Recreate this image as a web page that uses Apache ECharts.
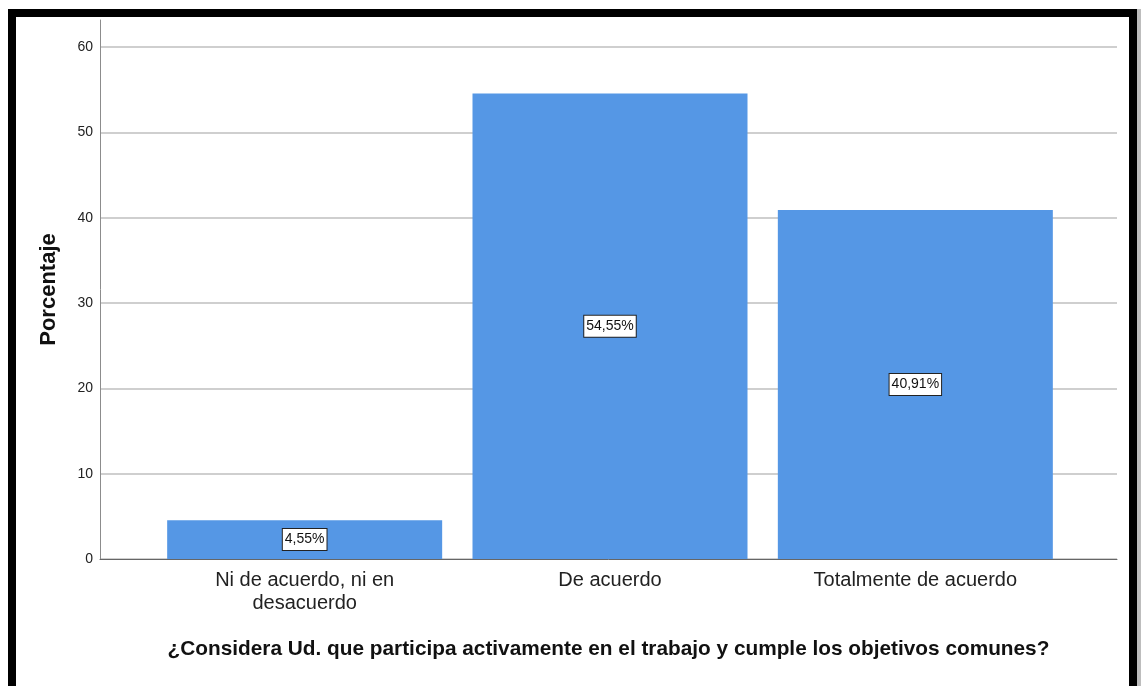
<!DOCTYPE html>
<html>
<head>
<meta charset="utf-8">
<script src="https://cdn.jsdelivr.net/npm/echarts@6/dist/echarts.min.js"></script>
<style>
  html, body { margin: 0; padding: 0; background: #fff; }
  #chart { position: absolute; left: 0; top: 0; width: 1143px; height: 686px; }
  #frame {
    position: absolute; left: 8px; top: 9px; width: 1113px; height: 690px;
    border: 8px solid #000; box-shadow: 4px 0 0 #bdbdbd; pointer-events: none;
  }
</style>
</head>
<body>
<div id="chart"></div>
<div id="frame"></div>
<script>
// categorias y valores (porcentaje)
var categorias = ['Ni de acuerdo, ni en\ndesacuerdo', 'De acuerdo', 'Totalmente de acuerdo'];
var porcentajes = [4.55, 54.55, 40.91];
var etiquetas = ['4,55%', '54,55%', '40,91%'];
var ticksY = [0, 10, 20, 30, 40, 50, 60];

var fuente = 'Liberation Sans, Arial, sans-serif';

var myChart = echarts.init(document.getElementById('chart'));

var option = {
  animation: false,
  grid: [
    // rejilla y ejes
    { left: 100, right: 26, top: 47, bottom: 127 },
    // barras
    { left: 152, right: 75, top: 47, bottom: 127 },
    // linea del eje Y (sobresale arriba)
    { left: 100, width: 1, top: 20, bottom: 127 }
  ],
  xAxis: [
    {
      gridIndex: 0, type: 'value', min: 0, max: 1,
      axisLine: { show: true, lineStyle: { color: '#666', width: 1 } },
      axisTick: { show: false }, axisLabel: { show: false }, splitLine: { show: false },
      name: '¿Considera Ud. que participa activamente en el trabajo y cumple los objetivos comunes?',
      nameLocation: 'middle', nameGap: 80,
      nameTextStyle: { fontFamily: fuente, fontSize: 20.8, fontWeight: 'bold', color: '#111' }
    },
    {
      gridIndex: 1, type: 'category', data: categorias,
      axisLine: { show: false }, axisTick: { show: false },
      axisLabel: { fontFamily: fuente, fontSize: 20, color: '#222', lineHeight: 23, margin: 10, interval: 0 }
    },
    { gridIndex: 2, type: 'value', show: false }
  ],
  yAxis: [
    {
      gridIndex: 0, type: 'value', min: ticksY[0], max: ticksY[ticksY.length - 1], interval: 10,
      axisLine: { show: false }, axisTick: { show: false },
      axisLabel: { fontFamily: fuente, fontSize: 14, color: '#222', margin: 7 },
      splitLine: { lineStyle: { color: '#cfcfcf', width: 2 } }
    },
    { gridIndex: 1, type: 'value', min: 0, max: 60, show: false },
    {
      gridIndex: 2, type: 'value', min: 0, max: 1,
      axisLine: { show: true, lineStyle: { color: '#8c8c8c', width: 1 } },
      axisTick: { show: false }, axisLabel: { show: false }, splitLine: { show: false },
      name: 'Porcentaje', nameLocation: 'middle', nameGap: 40,
      nameTextStyle: { fontFamily: fuente, fontSize: 22, fontWeight: 'bold', color: '#111' }
    }
  ],
  series: [
    {
      type: 'bar', xAxisIndex: 1, yAxisIndex: 1,
      data: porcentajes, barWidth: 275,
      itemStyle: { color: '#5597e5' },
      label: {
        show: true, position: 'inside',
        formatter: function (p) { return etiquetas[p.dataIndex]; },
        fontFamily: fuente, fontSize: 14, color: '#111',
        backgroundColor: '#fff', borderColor: '#222', borderWidth: 1,
        padding: [4, 2, 3, 2]
      }
    }
  ]
};

myChart.setOption(option);
</script>
</body>
</html>
